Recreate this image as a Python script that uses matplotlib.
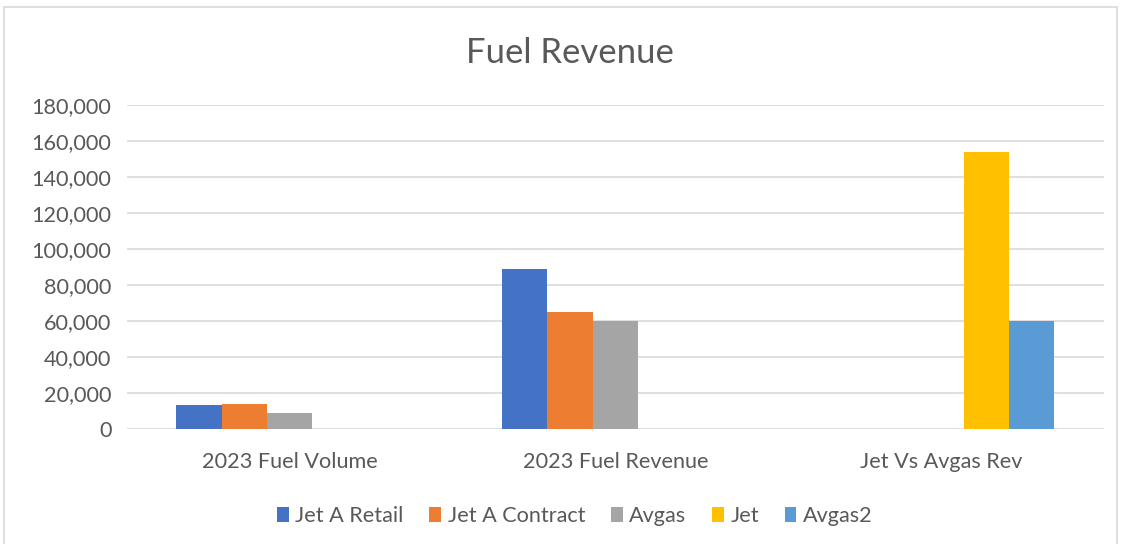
import matplotlib.pyplot as plt
import matplotlib.patches as patches
from matplotlib.ticker import FuncFormatter
import numpy as np

# Chart data
categories = ['2023 Fuel Volume', '2023 Fuel Revenue', 'Jet Vs Avgas Rev']
series_names = ['Jet A Retail', 'Jet A Contract', 'Avgas', 'Jet', 'Avgas2']
jet_a_retail = [13500, 89000, np.nan]
jet_a_contract = [13900, 64900, np.nan]
avgas = [8900, 60200, np.nan]
jet = [np.nan, np.nan, 153800]
avgas2 = [np.nan, np.nan, 60100]
colors = ['#4472C4', '#ED7D31', '#A5A5A5', '#FFC000', '#5B9BD5']

series = [jet_a_retail, jet_a_contract, avgas, jet, avgas2]

plt.rcParams['font.family'] = ['Lato', 'DejaVu Sans']
text_color = '#595959'
grid_color = '#D9D9D9'

fig = plt.figure(figsize=(11.25, 5.44), dpi=100)
ax = fig.add_axes([0.1126, 0.2108, 0.8687, 0.5967])

# Chart border
fig.patches.append(patches.Rectangle((4 / 1125, -0.05), 1113 / 1125, 1 - 7 / 544 + 0.05,
                                     transform=fig.transFigure, fill=False,
                                     edgecolor=grid_color, linewidth=1.2))

x = np.arange(len(categories))
w = 0.139
for i, (name, vals, c) in enumerate(zip(series_names, series, colors)):
    ax.bar(x + (i - 2) * w, vals, width=w, color=c, label=name, zorder=3)

ax.set_xlim(-0.5, 2.5)
ax.set_ylim(0, 180000)
ax.set_yticks(np.arange(0, 180001, 20000))
ax.yaxis.set_major_formatter(FuncFormatter(lambda v, p: f'{int(v):,}'))
ax.set_xticks(x)
ax.set_xticklabels(categories)

ax.grid(axis='y', color=grid_color, linewidth=1.2, zorder=0)
for s in ax.spines.values():
    s.set_visible(False)
ax.tick_params(axis='both', length=0, labelsize=15.6, colors=text_color)
ax.tick_params(axis='y', pad=11)
ax.tick_params(axis='x', pad=16)

fig.text(0.507, 0.902, 'Fuel Revenue', ha='center', va='center',
         fontsize=25, color=text_color)

ax.legend(loc='center', ncol=5, frameon=False, fontsize=15.6, labelcolor=text_color,
          handlelength=0.55, handleheight=0.7, handletextpad=0.3, columnspacing=1.18)
leg = ax.get_legend()
leg.set_bbox_to_anchor((0.511, 0.052), transform=fig.transFigure)

fig.savefig('out.png', dpi=100)
